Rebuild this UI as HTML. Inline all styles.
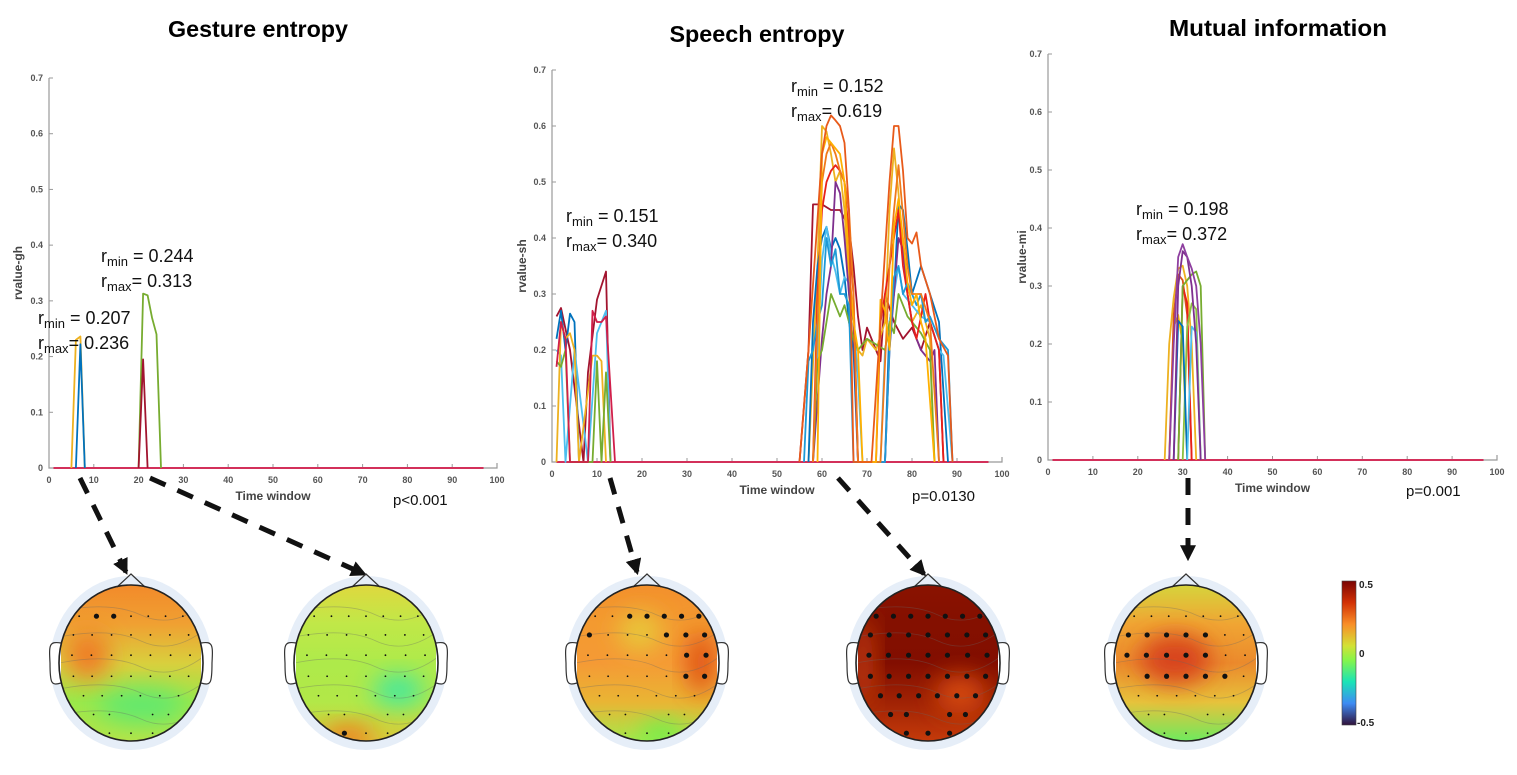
<!DOCTYPE html>
<html><head><meta charset="utf-8"><style>
html,body{margin:0;padding:0;background:#fff;}
svg{display:block;font-family:"Liberation Sans",sans-serif;}
.tick{font-size:9px;font-weight:bold;fill:#555;}
.axl{font-size:12px;font-weight:bold;fill:#444;}
.ann{font-size:18px;fill:#111;}
.ttl{font-size:23px;font-weight:bold;fill:#000;}
</style></head><body>
<svg id="fig" width="1517" height="775" viewBox="0 0 1517 775" xmlns="http://www.w3.org/2000/svg">
<defs>
<filter id="blur" x="-50%" y="-50%" width="200%" height="200%"><feGaussianBlur stdDeviation="12"/></filter>
<marker id="ah" viewBox="0 0 10 10" refX="8" refY="5" markerWidth="3.2" markerHeight="3.2" orient="auto"><path d="M0,0 L10,5 L0,10 z" fill="#111"/></marker>
<linearGradient id="cbar" x1="0" y1="0" x2="0" y2="1">
<stop offset="0" stop-color="#7a0403"/><stop offset="0.15" stop-color="#d23105"/><stop offset="0.3" stop-color="#f98e27"/><stop offset="0.45" stop-color="#d3e135"/><stop offset="0.55" stop-color="#86f54a"/><stop offset="0.7" stop-color="#1ae4b6"/><stop offset="0.85" stop-color="#3e8bf4"/><stop offset="1" stop-color="#30123b"/>
</linearGradient>
</defs>
<g id="charts"></g>
<g id="heads"></g>
<g>
<rect x="1342" y="581" width="14" height="144" fill="url(#cbar)" stroke="#444" stroke-width="0.6"/>
<text x="1359" y="588" class="tick" style="fill:#222;font-size:10px">0.5</text>
<text x="1359" y="657" class="tick" style="fill:#222;font-size:10px">0</text>
<text x="1357" y="726" class="tick" style="fill:#222;font-size:10px">-0.5</text>
</g>
</svg>
<script>
// ---------- Chart data ----------
const xTicks = [0,10,20,30,40,50,60,70,80,90,100];
const yTicks = [0,0.1,0.2,0.3,0.4,0.5,0.6,0.7];
const yTickLabels = ["0","0.1","0.2","0.3","0.4","0.5","0.6","0.7"];
const baselineX = [1,97];
const baselineY = [0,0];

// Gesture entropy series
const gOrangeX = [5,6,7,8];      const gOrangeY = [0,0.23,0.236,0];
const gBlueX = [6,7,8];          const gBlueY = [0,0.222,0];
const gGreenX = [20,21,22,23,24,25]; const gGreenY = [0,0.313,0.31,0.27,0.24,0];
const gRedX = [20,21,22];        const gRedY = [0,0.195,0];

// Speech entropy series
const sA1X=[1,2,4,7,8,10,12,13]; const sA1Y=[0.26,0.275,0.2,0,0.16,0.29,0.34,0];
const sA2X=[1,2,3,4,5,6]; const sA2Y=[0.22,0.27,0.2,0.265,0.25,0];
const sA3X=[1,2,3,5,8,10,12,13]; const sA3Y=[0.2,0.19,0,0.2,0,0.23,0.27,0];
const sA4X=[1,2,3,4,5,6,9,10,11,12]; const sA4Y=[0,0.25,0.22,0.23,0.2,0,0.19,0.19,0.18,0];
const sA5X=[1,2,3,4,9,10,11,12,13]; const sA5Y=[0.18,0.17,0.2,0,0,0.18,0,0.16,0];
const sA6X=[1,2,3,4,8,9,10,11,12,14]; const sA6Y=[0.17,0.25,0.22,0,0,0.27,0.25,0.25,0.26,0];
const sB1X=[55,57,60,61,62,63,64,65,66,67,71,73,75,76,77,78,79,80,81,82,84,86,88,89]; const sB1Y=[0,0.2,0.55,0.6,0.619,0.61,0.6,0.57,0.45,0,0,0.25,0.5,0.6,0.6,0.52,0.4,0.39,0.41,0.35,0.3,0.22,0.19,0];
const sB2X=[55,57,58,60,62,64,66,67,68,69,70,71,72,73,74,76,78,80,82,84,86,87]; const sB2Y=[0,0.2,0.46,0.46,0.45,0.45,0.42,0.35,0.26,0.2,0.24,0.22,0.2,0.18,0.3,0.25,0.22,0.24,0.2,0.25,0.2,0];
const sB3X=[57,59,60,61,62,63,64,65,66,67,68,69,70,72,74,75,76,77,78,79,80,82,84,85]; const sB3Y=[0,0.35,0.6,0.59,0.55,0.5,0.52,0.45,0.3,0.2,0.2,0.19,0.22,0.2,0.25,0.45,0.56,0.48,0.38,0.3,0.25,0.28,0.22,0];
const sB4X=[57,58,59,60,61,62,63,64,65,66,67,68,74,75,76,77,78,79,80,82,84,86,88]; const sB4Y=[0,0.25,0.35,0.4,0.42,0.38,0.4,0.38,0.33,0.25,0.2,0,0,0.25,0.3,0.46,0.45,0.38,0.3,0.35,0.3,0.25,0];
const sB5X=[58,59,60,61,62,63,64,65,66,67,68,69,73,74,76,77,78,80,82,84,86,87,89]; const sB5Y=[0,0.2,0.36,0.42,0.37,0.34,0.3,0.33,0.32,0.25,0.15,0,0,0.2,0.3,0.35,0.3,0.28,0.26,0.25,0.2,0.19,0];
const sB6X=[58,60,61,62,63,64,65,66,67,68,74,75,76,77,78,79,80,81,82,84,85,86]; const sB6Y=[0,0.22,0.3,0.35,0.5,0.48,0.4,0.3,0.25,0,0,0.2,0.3,0.4,0.38,0.3,0.25,0.22,0.2,0.18,0.2,0];
const sB7X=[58,59,60,61,62,63,64,65,66,67,68,70,72,74,75,76,77,78,79,80,82,84,85]; const sB7Y=[0,0.18,0.2,0.25,0.3,0.28,0.26,0.28,0.25,0.22,0.2,0.22,0.21,0.2,0.25,0.23,0.3,0.28,0.26,0.25,0.23,0.2,0];
const sB8X=[58,59,60,61,62,63,64,65,66,67,68,72,73,74,75,76,77,78,79,80,81,82,83,84,86,87]; const sB8Y=[0,0.3,0.45,0.5,0.52,0.53,0.52,0.5,0.4,0.3,0,0,0.25,0.3,0.35,0.4,0.45,0.35,0.3,0.25,0.22,0.26,0.3,0.25,0.2,0];
const sB9X=[56,57,58,59,60,61,62,63,64,65,66,67,74,75,76,77,78,79,80,81,82,83,84,86,88,89]; const sB9Y=[0,0.18,0.2,0.25,0.28,0.4,0.35,0.38,0.3,0.3,0.28,0,0,0.2,0.33,0.35,0.3,0.32,0.3,0.28,0.3,0.25,0.26,0.22,0.2,0];
const sB10X=[58,60,61,62,63,64,65,66,67,68,73,75,76,77,78,79,80,82,84,86]; const sB10Y=[0,0.5,0.55,0.57,0.55,0.52,0.5,0.45,0.3,0,0,0.35,0.45,0.53,0.44,0.35,0.3,0.3,0.25,0];
const sB11X=[59,60,61,62,63,64,65,66,67,68,69,72,73,74,75,76,77,78,79,80,81,82,83,85]; const sB11Y=[0,0.55,0.58,0.57,0.56,0.55,0.5,0.35,0.25,0.2,0,0,0.29,0.27,0.2,0.42,0.47,0.4,0.32,0.28,0.3,0.25,0.22,0];

// Mutual information series
const mPurpleX=[27,28,29,30,31,32,33,34,35]; const mPurpleY=[0,0.2,0.35,0.372,0.35,0.33,0.3,0.2,0];
const mPurple2X=[28,29,30,31,32,33,34]; const mPurple2Y=[0,0.3,0.36,0.35,0.3,0.2,0];
const mOrangeX=[26,27,28,29,30,31,32,33]; const mOrangeY=[0,0.2,0.28,0.33,0.335,0.3,0.2,0];
const mRedX=[27,28,29,30,31,32]; const mRedY=[0,0.25,0.32,0.31,0.25,0];
const mGreenX=[29,30,31,32,33,34,35]; const mGreenY=[0,0.3,0.31,0.32,0.325,0.3,0];
const mGreen2X=[30,31,32,33,34]; const mGreen2Y=[0,0.23,0.27,0.26,0];
const mBlueX=[28,29,30,31]; const mBlueY=[0,0.24,0.23,0];
const mCyanX=[31,32,33,34]; const mCyanY=[0,0.23,0.22,0];
const mYellowX=[27,28,29,30,31]; const mYellowY=[0,0.23,0.25,0.2,0];
const mRed2X=[29,30,31,32]; const mRed2Y=[0,0.3,0.27,0];

const NS="http://www.w3.org/2000/svg";
function mk(tag, attrs, parent){const e=document.createElementNS(NS,tag);for(const k in attrs)e.setAttribute(k,attrs[k]);parent.appendChild(e);return e;}

const charts=[
 {key:"gesture",title:"Gesture entropy",tx:258,ty:37,tw:180,x0:49,x1:497,y0:468,y1:78,ylab:"rvalue-gh",ylx:22,p:"p<0.001",px:393,py:505,
  series:[[gOrangeX,gOrangeY,"#edb120"],[gBlueX,gBlueY,"#0072bd"],[gGreenX,gGreenY,"#77ac30"],[gRedX,gRedY,"#a2142f"]],
  ann:[["0.244","0.313",101,262],["0.207","0.236",38,324]]},
 {key:"speech",title:"Speech entropy",tx:757,ty:42,tw:175,x0:552,x1:1002,y0:462,y1:70,ylab:"rvalue-sh",ylx:526,p:"p=0.0130",px:912,py:501,
  series:[[sA1X,sA1Y,"#a2142f"],[sA2X,sA2Y,"#0072bd"],[sA3X,sA3Y,"#4dbeee"],[sA4X,sA4Y,"#edb120"],[sA5X,sA5Y,"#77ac30"],[sA6X,sA6Y,"#d11f4a"],
   [sB2X,sB2Y,"#a2142f"],[sB3X,sB3Y,"#edb120"],[sB4X,sB4Y,"#0072bd"],[sB5X,sB5Y,"#4dbeee"],[sB6X,sB6Y,"#7e2f8e"],[sB7X,sB7Y,"#77ac30"],[sB8X,sB8Y,"#e8201a"],[sB9X,sB9Y,"#1e9ad6"],[sB10X,sB10Y,"#f07a1a"],[sB11X,sB11Y,"#ffb000"],[sB1X,sB1Y,"#e85a1a"]],
  ann:[["0.151","0.340",566,222],["0.152","0.619",791,92]]},
 {key:"mi",title:"Mutual information",tx:1278,ty:36,tw:218,x0:1048,x1:1497,y0:460,y1:54,ylab:"rvalue-mi",ylx:1026,p:"p=0.001",px:1406,py:496,
  series:[[mOrangeX,mOrangeY,"#edb120"],[mYellowX,mYellowY,"#f5c000"],[mRedX,mRedY,"#d95319"],[mRed2X,mRed2Y,"#e8201a"],[mGreenX,mGreenY,"#77ac30"],[mGreen2X,mGreen2Y,"#8cbf3f"],[mBlueX,mBlueY,"#0072bd"],[mCyanX,mCyanY,"#4dbeee"],[mPurple2X,mPurple2Y,"#7e2f8e"],[mPurpleX,mPurpleY,"#8e3fa0"]],
  ann:[["0.198","0.372",1136,215]]}
];
const root=document.getElementById("charts");
charts.forEach(c=>{
 const g=mk("g",{},root);
 
 
 const xs=v=>c.x0+(v/100)*(c.x1-c.x0);
 const ys=v=>c.y0-(v/0.7)*(c.y0-c.y1);
 const t=mk("text",{x:c.tx,y:c.ty,"text-anchor":"middle",class:"ttl",textLength:c.tw,lengthAdjust:"spacingAndGlyphs"},g);
 t.textContent=c.title;
 
 
 const ax=mk("path",{d:`M${c.x0},${c.y1} L${c.x0},${c.y0} L${c.x1},${c.y0} L${c.x1},${c.y0-5}`,fill:"none",stroke:"#999","stroke-width":1.2},g);
 
 
 xTicks.forEach(v=>{
  mk("line",{x1:xs(v),x2:xs(v),y1:c.y0,y2:c.y0-4,stroke:"#999","stroke-width":1},g);
  const l=mk("text",{x:xs(v),y:c.y0+15,"text-anchor":"middle",class:"tick"},g);
  l.textContent=String(v);
  
  
 });
 yTicks.forEach((v,i)=>{
  mk("line",{x1:c.x0,x2:c.x0+4,y1:ys(v),y2:ys(v),stroke:"#999","stroke-width":1},g);
  const l=mk("text",{x:c.x0-6,y:ys(v)+3,"text-anchor":"end",class:"tick"},g);
  l.textContent=yTickLabels[i];
  
  
 });
 const xl=mk("text",{x:(c.x0+c.x1)/2,y:c.y0+32,"text-anchor":"middle",class:"axl"},g);
 xl.textContent="Time window";
 
 
 const ym=(c.y0+c.y1)/2;
 const yl=mk("text",{x:c.ylx,y:ym,"text-anchor":"middle",class:"axl",transform:`rotate(-90 ${c.ylx} ${ym})`},g);
 yl.textContent=c.ylab;
 
 
 const pl=mk("text",{x:c.px,y:c.py,style:"font-size:15px;fill:#111"},g);
 pl.textContent=c.p;
 
 
 const bl=mk("polyline",{points:baselineX.map((x,i)=>xs(x)+","+ys(baselineY[i])).join(" "),fill:"none",stroke:"#d3305a","stroke-width":2},g);
 
 
 c.series.forEach((s,k)=>{
  const p=mk("polyline",{points:s[0].map((x,i)=>xs(x).toFixed(1)+","+ys(s[1][i]).toFixed(1)).join(" "),fill:"none",stroke:s[2],"stroke-width":1.8,"stroke-linejoin":"round"},g);
  
  
 });
 c.ann.forEach(a=>{
  const t1=mk("text",{x:a[2],y:a[3],class:"ann"},g);
  t1.innerHTML=`r<tspan dy="4" style="font-size:13px">min</tspan><tspan dy="-4"> = ${a[0]}</tspan>`;
  
  
  const t2=mk("text",{x:a[2],y:a[3]+25,class:"ann"},g);
  t2.innerHTML=`r<tspan dy="4" style="font-size:13px">max</tspan><tspan dy="-4">= ${a[1]}</tspan>`;
  
  
 });
});
// arrows
[[80,478,126,572],[150,478,364,574],[610,478,637,572],[838,478,924,574],[1188,478,1188,558]].forEach(a=>{
 const l=mk("line",{x1:a[0],y1:a[1],x2:a[2],y2:a[3],stroke:"#111","stroke-width":5,"stroke-dasharray":"17 13","marker-end":"url(#ah)"},root);
 
 
});

// ---------- Topographic maps ----------
// big: list of [rowIndex, colIndex] of highlighted electrodes
const heads=[
 {cx:131,base:["#f28a2a","#f0a032","#d9cf3d","#9ae84a","#b6e447"],blobs:[[0.15,0.55,0.6,0.22,"#60e870"],[-0.6,-0.1,0.3,0.3,"#f07a28"]],big:[[0,1],[0,2]]},
 {cx:366,base:["#dfd83e","#c0e848","#aeea4a","#b2e848","#d8c93a"],blobs:[[0.45,0.35,0.35,0.2,"#40e8a0"],[-0.25,0.95,0.35,0.15,"#f0781e"]],big:[[6,0]]},
 {cx:647,base:["#f3902c","#f39a30","#f59a35","#e9b534","#a6e84a"],blobs:[[-0.1,-0.4,0.3,0.25,"#e8c83a"],[0.75,0,0.2,0.4,"#e05212"],[0.2,0.9,0.3,0.15,"#6af04c"]],big:[[0,2],[0,3],[0,4],[0,5],[0,6],[1,0],[1,4],[1,5],[1,6],[2,5],[2,6],[3,5],[3,6]]},
 {cx:928,base:["#8a1200","#841000","#820e00","#a02204","#c43a0a"],blobs:[[0.45,0.4,0.35,0.25,"#d54a10"],[-0.9,0,0.15,0.6,"#c03a10"]],big:"all"},
 {cx:1186,base:["#d6d43c","#f0a533","#eb8a2c","#e7c23b","#6fea5e"],blobs:[[-0.15,-0.05,0.5,0.32,"#d8441a"]],big:[[1,0],[1,1],[1,2],[1,3],[1,4],[2,0],[2,1],[2,2],[2,3],[2,4],[3,1],[3,2],[3,3],[3,4],[3,5]]}
];
const rows=[[-0.6,[-0.72,-0.48,-0.24,0,0.24,0.48,0.72]],[-0.36,[-0.8,-0.54,-0.27,0,0.27,0.54,0.8]],[-0.1,[-0.82,-0.55,-0.27,0,0.27,0.55,0.82]],[0.17,[-0.8,-0.54,-0.27,0,0.27,0.54,0.8]],[0.42,[-0.66,-0.4,-0.13,0.13,0.4,0.66]],[0.66,[-0.52,-0.3,0.3,0.52]],[0.9,[-0.3,0,0.3]]];
const hroot=document.getElementById("heads");
const cy=663, rx=72, ry=78;
heads.forEach((h,i)=>{
 const g=mk("g",{},hroot);
 
 
 const defs=mk("defs",{},g);
 const cp=mk("clipPath",{id:"clip"+i},defs);
 mk("ellipse",{cx:h.cx,cy:cy,rx:rx,ry:ry},cp);
 const lg=mk("linearGradient",{id:"lg"+i,x1:0,y1:0,x2:0,y2:1},defs);
 h.base.forEach((c,k)=>mk("stop",{offset:k/(h.base.length-1),"stop-color":c},lg));
 mk("ellipse",{cx:h.cx,cy:cy,rx:rx+9,ry:ry+9,fill:"#e6eef8"},g);
 const cg=mk("g",{"clip-path":`url(#clip${i})`},g);
 mk("rect",{x:h.cx-rx,y:cy-ry,width:2*rx,height:2*ry,fill:`url(#lg${i})`},cg);
 h.blobs.forEach(b=>mk("ellipse",{cx:h.cx+b[0]*rx,cy:cy+b[1]*ry,rx:b[2]*rx,ry:b[3]*ry,fill:b[4],filter:"url(#blur)"},cg));
 for(let k=1;k<6;k++) mk("path",{d:`M${h.cx-rx},${cy-ry+k*26} Q${h.cx-20},${cy-ry+k*26-10} ${h.cx+10},${cy-ry+k*26+4} T${h.cx+rx},${cy-ry+k*26-6}`,fill:"none",stroke:"#666","stroke-opacity":0.35,"stroke-width":0.8},cg);
 mk("path",{d:`M${h.cx-14},${cy-ry+2} L${h.cx},${cy-ry-11} L${h.cx+14},${cy-ry+2}`,fill:"none",stroke:"#333","stroke-width":1.2},g);
 mk("path",{d:`M${h.cx-rx+2},${cy-20} C${h.cx-rx-10},${cy-22} ${h.cx-rx-10},${cy-18} ${h.cx-rx-9},${cy} C${h.cx-rx-9},${cy+20} ${h.cx-rx-8},${cy+23} ${h.cx-rx+2},${cy+20}`,fill:"#fff",stroke:"#333","stroke-width":1.2},g);
 mk("path",{d:`M${h.cx+rx-2},${cy-20} C${h.cx+rx+10},${cy-22} ${h.cx+rx+10},${cy-18} ${h.cx+rx+9},${cy} C${h.cx+rx+9},${cy+20} ${h.cx+rx+8},${cy+23} ${h.cx+rx-2},${cy+20}`,fill:"#fff",stroke:"#333","stroke-width":1.2},g);
 mk("ellipse",{cx:h.cx,cy:cy,rx:rx,ry:ry,fill:"none",stroke:"#222","stroke-width":1.6},g);
 rows.forEach((r,ri)=>r[1].forEach((x,ci)=>{
  const big=h.big==="all"||h.big.some(b=>b[0]===ri&&b[1]===ci);
  mk("circle",{cx:h.cx+x*rx,cy:cy+r[0]*ry,r:big?2.6:0.9,fill:"#111"},g);
 }));
});
</script>
</body></html>
